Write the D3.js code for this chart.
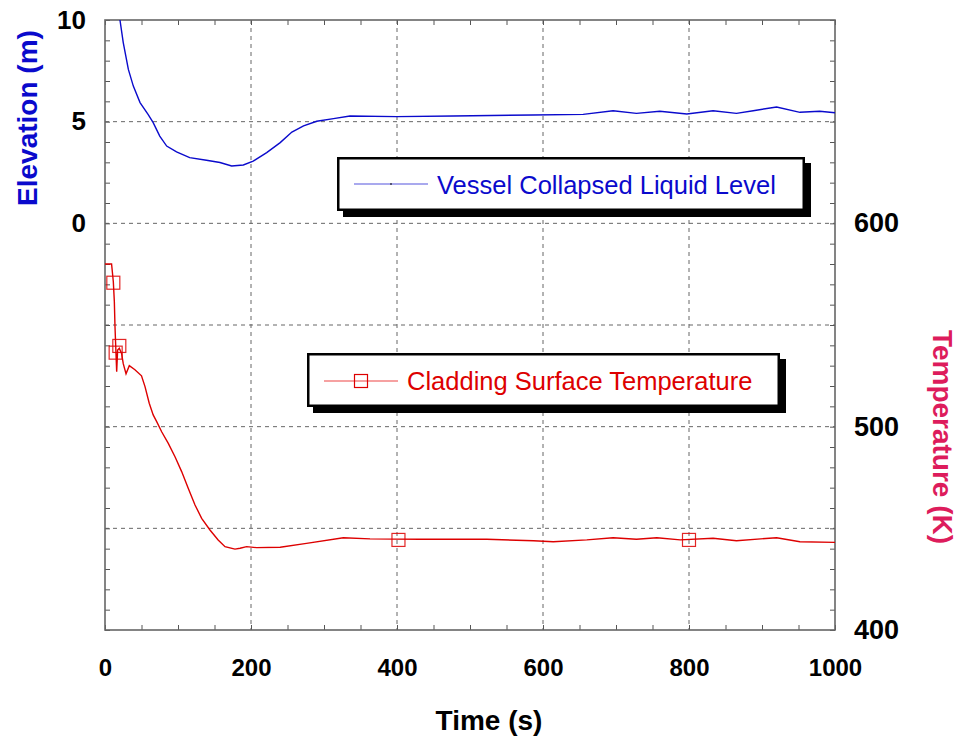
<!DOCTYPE html>
<html><head><meta charset="utf-8">
<script src="https://cdn.jsdelivr.net/npm/d3@7"></script>
<style>body{margin:0;background:#fff}svg{display:block;font-family:"Liberation Sans",Arial,sans-serif}</style>
</head><body>
<svg id="c" width="960" height="738"></svg>
<script>
// ---- data ----
const timeLevel = [19, 20.5, 25, 32, 38.8, 48, 59, 66, 75, 84.5, 98, 116, 139, 157.5, 173.5, 189.5, 203, 221.5, 240, 256, 272, 290, 313, 335.6, 399.5, 477, 586, 655, 696, 728, 760, 797, 833, 865, 888, 920, 952, 979, 1000];
const level = [10.6, 10.0, 8.89, 7.57, 6.75, 5.94, 5.36, 4.95, 4.29, 3.80, 3.51, 3.23, 3.10, 2.99, 2.82, 2.87, 3.06, 3.48, 3.97, 4.49, 4.79, 5.02, 5.15, 5.28, 5.25, 5.28, 5.33, 5.36, 5.54, 5.41, 5.51, 5.38, 5.54, 5.41, 5.54, 5.72, 5.46, 5.51, 5.44];
const timeTemp = [0, 9, 11.4, 12.8, 13.7, 16, 17.3, 19.6, 22.7, 25, 28.8, 33.3, 41, 50, 54.8, 60.6, 66, 70.8, 77.6, 86.7, 95.9, 105, 114, 123.3, 132.4, 143.8, 155, 164.4, 178, 185, 194, 207.7, 240, 276, 326.5, 363, 431.5, 523, 587, 614, 660, 696, 728, 756, 788, 833, 865, 920, 952, 1000];
const temp = [580, 580, 571.3, 561.5, 549, 527, 537.7, 538.6, 536, 531, 526, 530, 528, 525, 519.7, 511.5, 505.8, 502.5, 497.5, 491.8, 485.2, 477.9, 469.7, 461.5, 454.9, 449.2, 444.3, 441, 439.8, 440.2, 441, 440.5, 440.7, 442.6, 445.4, 444.8, 444.6, 444.6, 443.9, 443.4, 444.3, 445.4, 444.6, 445.4, 444.3, 445.1, 443.9, 445.4, 443.4, 443.1];
const markerTime = [11.4, 14.6, 19.6, 402, 800];
const markerTemp = [570.8, 536.4, 539.7, 444.3, 444.3];
const xTickLabels = [0, 200, 400, 600, 800, 1000];
const leftTickLabels = [0, 5, 10];
const rightTickLabels = [400, 500, 600];
const seriesNames = ["Vessel Collapsed Liquid Level", "Cladding Surface Temperature"];

// ---- layout ----
const L = 105, R = 835, T = 20, B = 630;
const blue = "#0a0acc", red = "#dd0000";
const svg = d3.select("#c");
const x = d3.scaleLinear([0, 1000], [L, R]);
const yL = d3.scaleLinear([-20, 10], [B, T]);
const yR = d3.scaleLinear([400, 700], [B, T]);

// grid
const g = svg.append("g").attr("stroke", "#666").attr("stroke-width", 1).attr("stroke-dasharray", "4,4");
[200, 400, 600, 800].forEach(v => g.append("line").attr("x1", x(v)).attr("x2", x(v)).attr("y1", T).attr("y2", B));
[5, 0, -5, -10, -15].forEach(v => g.append("line").attr("x1", L).attr("x2", R).attr("y1", yL(v)).attr("y2", yL(v)));

// axes (inward ticks)
function style(sel, size) {
  sel.select(".domain").remove();
  sel.selectAll(".tick line").attr("stroke", "#555").attr("stroke-width", 1);
  sel.selectAll("text").attr("font-size", size).attr("font-weight", "bold").attr("fill", "#000");
}
const ax = svg.append("g").attr("transform", `translate(0,${B})`)
  .call(d3.axisBottom(x).tickValues(d3.range(0, 1001, 50)).tickSize(-5).tickPadding(29)
    .tickFormat(d => xTickLabels.includes(d) ? d : ""));
style(ax, 24);
svg.append("g").attr("transform", `translate(0,${T})`)
  .call(d3.axisTop(x).tickValues(d3.range(0, 1001, 50)).tickSize(-5).tickFormat(""))
  .call(s => style(s, 0));
const al = svg.append("g").attr("transform", `translate(${L},0)`)
  .call(d3.axisLeft(yL).tickValues(d3.range(-20, 11, 1)).tickSize(-5).tickPadding(19)
    .tickFormat(d => leftTickLabels.includes(d) ? d : ""));
style(al, 26);
const ar = svg.append("g").attr("transform", `translate(${R},0)`)
  .call(d3.axisRight(yR).tickValues(d3.range(400, 701, 10)).tickSize(-5).tickPadding(19)
    .tickFormat(d => rightTickLabels.includes(d) ? d : ""));
style(ar, 27);

// frame
svg.append("rect").attr("x", L).attr("y", T).attr("width", R - L).attr("height", B - T)
  .attr("fill", "none").attr("stroke", "#666").attr("stroke-width", 1.6);

// clip
svg.append("clipPath").attr("id", "clip").append("rect").attr("x", L).attr("y", T).attr("width", R - L).attr("height", B - T);

// lines
svg.append("path").attr("clip-path", "url(#clip)")
  .attr("d", d3.line().x((d, i) => x(timeLevel[i])).y(d => yL(d))(level))
  .attr("fill", "none").attr("stroke", blue).attr("stroke-width", 1.4);
svg.append("path").attr("clip-path", "url(#clip)")
  .attr("d", d3.line().x((d, i) => x(timeTemp[i])).y(d => yR(d))(temp))
  .attr("fill", "none").attr("stroke", red).attr("stroke-width", 1.4);
svg.append("g").selectAll("rect").data(markerTemp).join("rect")
  .attr("x", (d, i) => x(markerTime[i]) - 6.5).attr("y", d => yR(d) - 6.5)
  .attr("width", 13).attr("height", 13).attr("fill", "none").attr("stroke", red).attr("stroke-width", 1.2).attr("opacity", 0.85);

// legends
function legend(x0, y0, x1, y1, lineX0, lineX1, lineY, textX, textY, color, lineColor, name, marker) {
  svg.append("rect").attr("x", x0 + 6).attr("y", y0 + 6).attr("width", x1 - x0).attr("height", y1 - y0).attr("fill", "#000");
  svg.append("rect").attr("x", x0 + 1.25).attr("y", y0 + 1.25).attr("width", x1 - x0 - 2.5).attr("height", y1 - y0 - 2.5)
    .attr("fill", "#fff").attr("stroke", "#000").attr("stroke-width", 2.5);
  svg.append("line").attr("x1", lineX0).attr("x2", lineX1).attr("y1", lineY).attr("y2", lineY).attr("stroke", lineColor).attr("stroke-width", 1.2);
  const mx = (lineX0 + lineX1) / 2;
  if (marker) {
    svg.append("rect").attr("x", mx - 6.5).attr("y", lineY - 6.5).attr("width", 13).attr("height", 13)
      .attr("fill", "none").attr("stroke", color).attr("stroke-width", 1.2);
  } else {
    svg.append("line").attr("x1", mx).attr("x2", mx).attr("y1", lineY - 1).attr("y2", lineY + 1).attr("stroke", "#000").attr("stroke-width", 1);
  }
  svg.append("text").attr("x", textX).attr("y", textY).attr("font-size", 25.5).attr("fill", color).text(name);
}
legend(337, 157, 805, 211, 354, 428, 184, 437, 194, blue, "#5555dd", seriesNames[0], false);
legend(307, 353, 780, 407, 324, 398, 381, 407, 390, red, "#e44", seriesNames[1], true);

// axis titles
svg.append("text").attr("transform", "translate(37,118) rotate(-90)").attr("text-anchor", "middle")
  .attr("font-size", 28).attr("font-weight", "bold").attr("fill", blue).text("Elevation (m)");
svg.append("text").attr("transform", "translate(933,437) rotate(90)").attr("text-anchor", "middle")
  .attr("font-size", 28).attr("font-weight", "bold").attr("fill", "#dd1c5c").text("Temperature (K)");
svg.append("text").attr("x", 489).attr("y", 730).attr("text-anchor", "middle")
  .attr("font-size", 28).attr("font-weight", "bold").attr("fill", "#000").text("Time (s)");
</script>
</body></html>
